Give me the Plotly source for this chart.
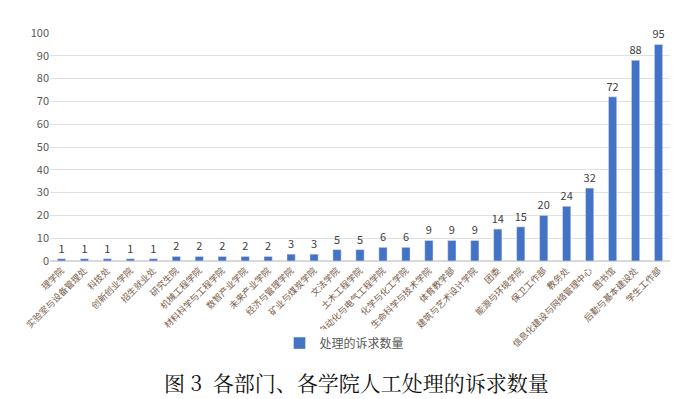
import plotly.graph_objects as go

categories = ["理学院", "实验室与设备管理处", "科技处", "创新创业学院", "招生就业处", "研究生院",
              "机械工程学院", "材料科学与工程学院", "数智产业学院", "未来产业学院", "经济与管理学院",
              "矿业与煤炭学院", "文法学院", "土木工程学院", "自动化与电气工程学院", "化学与化工学院",
              "生命科学与技术学院", "体育教学部", "建筑与艺术设计学院", "团委", "能源与环境学院",
              "保卫工作部", "教务处", "信息化建设与网络管理中心", "图书馆", "后勤与基本建设处", "学生工作部"]
values = [1, 1, 1, 1, 1, 2, 2, 2, 2, 2, 3, 3, 5, 5, 6, 6, 9, 9, 9, 14, 15, 20, 24, 32, 72, 88, 95]
series_name = "处理的诉求数量"
title_text = "图\u00a03\u00a0\u00a0各部门、各学院人工处理的诉求数量"

fig = go.Figure()
fig.add_trace(go.Bar(
    x=categories, y=values, name=series_name,
    marker_color="#4472C4",
    text=values, textposition="outside", constraintext="none",
    textfont=dict(size=11, color="#404040"),
    cliponaxis=False,
))

fig.update_layout(
    width=696, height=399,
    margin=dict(l=50, r=26, t=33, b=138),
    paper_bgcolor="white", plot_bgcolor="white",
    font=dict(family="Noto Sans CJK SC, sans-serif", color="#595959"),
    bargap=0.64,
    showlegend=True,
    legend=dict(orientation="h", x=0.475, xanchor="center", y=-0.36, yanchor="middle",
                font=dict(size=12, color="#595959"), itemwidth=30),
    xaxis=dict(tickangle=-45, tickfont=dict(size=9, color="#7a5c48"),
               showline=True, linecolor="#d9d9d9", linewidth=1, ticks="", showgrid=False),
    yaxis=dict(range=[0, 100], dtick=10, showgrid=True, gridcolor="#e0e0e0",
               zeroline=True, zerolinecolor="#d9d9d9", ticks="",
               tickfont=dict(size=11, color="#595959"), ticklen=8,
               showline=False),
    annotations=[dict(text=title_text, xref="paper", yref="paper", x=0.495, y=-0.53,
                      xanchor="center", yanchor="middle", showarrow=False,
                      font=dict(size=21, color="#111111", family="Noto Serif CJK SC, serif"))],
)

fig.write_html("out.html")
